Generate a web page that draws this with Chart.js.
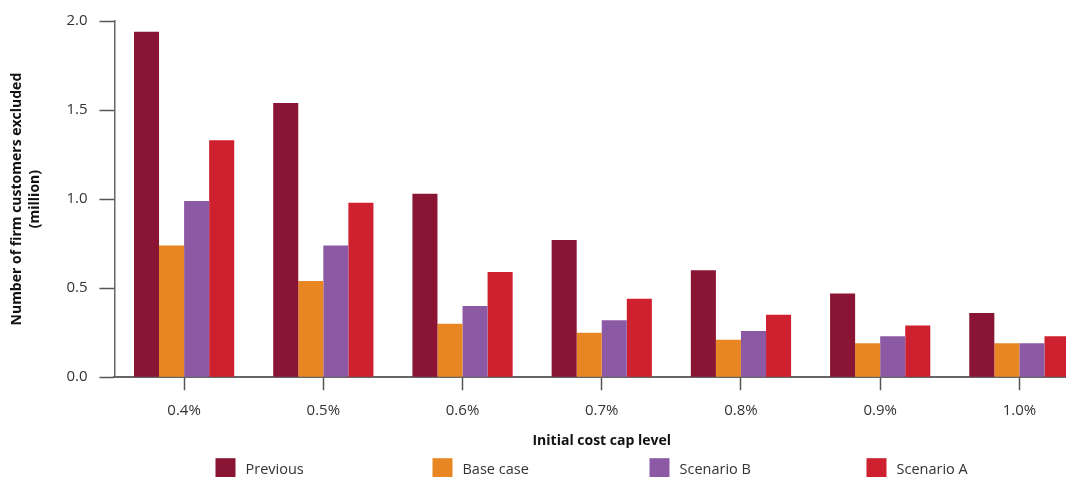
<html>
    <head>
        <title>Customers excluded by initial cost cap level</title>
        <script src="https://cdn.jsdelivr.net/npm/chart.js/dist/chart.umd.min.js"></script>
        <style>
            body { margin: 0; overflow: hidden; background: #fff; }
            #wrap { position: absolute; left: 0; top: 0; width: 1092px; height: 492px; }
        </style>
    </head>
    <body>
        <div id="wrap"><canvas id="myChart" width="1092" height="492"></canvas></div>
        <script>
            // cap levels on the x axis
            var capLevels = ["0.4%", "0.5%", "0.6%", "0.7%", "0.8%", "0.9%", "1.0%"];
            // firm customers excluded, in millions
            var previous  = [1.94, 1.54, 1.03, 0.77, 0.60, 0.47, 0.36];
            var baseCase  = [0.74, 0.54, 0.30, 0.25, 0.21, 0.19, 0.19];
            var scenarioB = [0.99, 0.74, 0.40, 0.32, 0.26, 0.23, 0.19];
            var scenarioA = [1.33, 0.98, 0.59, 0.44, 0.35, 0.29, 0.23];
            var yTicks = [0, 0.5, 1.0, 1.5, 2.0];

            var font = "'Open Sans', 'Noto Sans', sans-serif";

            // legend with evenly spaced entries under the plot
            const spacedLegend = {
                id: 'spacedLegend',
                afterDraw(chart) {
                    const c = chart.ctx;
                    const area = chart.chartArea;
                    c.save();
                    c.font = "14.5px " + font;
                    c.textBaseline = 'middle';
                    chart.data.datasets.forEach((ds, i) => {
                        const x = area.left + 101 + i * 217;
                        const y = area.bottom + 81;
                        c.fillStyle = ds.backgroundColor;
                        c.fillRect(x, y, 20, 20);
                        c.fillStyle = '#333';
                        c.fillText(ds.label, x + 30, y + 12);
                    });
                    c.restore();
                }
            };

            const ctx = document.getElementById('myChart').getContext('2d');
            const myChart = new Chart(ctx, {
                type: 'bar',
                data: {
                    labels: capLevels,
                    datasets: [
                        { label: "Previous", data: previous, backgroundColor: "#8a1433" },
                        { label: "Base case", data: baseCase, backgroundColor: "#e88623" },
                        { label: "Scenario B", data: scenarioB, backgroundColor: "#8c5aa5" },
                        { label: "Scenario A", data: scenarioA, backgroundColor: "#cf202f" },
                    ],
                },
                plugins: [spacedLegend],
                options: {
                    responsive: false,
                    animation: false,
                    layout: { padding: { top: 18, right: 3, left: 8, bottom: 38 } },
                    datasets: {
                        bar: { categoryPercentage: 0.72, barPercentage: 1.0, borderWidth: 0 }
                    },
                    plugins: {
                        tooltip: { enabled: false },
                        legend: { display: false },
                    },
                    scales: {
                        x: {
                            grid: {
                                display: true,
                                offset: false,
                                drawOnChartArea: false,
                                drawTicks: true,
                                tickLength: 13,
                                tickColor: '#555',
                                tickWidth: 1.5,
                            },
                            border: { color: '#666', width: 2 },
                            ticks: {
                                color: '#333',
                                padding: 12,
                                font: { family: font, size: 15 },
                            },
                            title: {
                                display: true,
                                text: "Initial cost cap level",
                                color: '#111',
                                padding: { top: 0, bottom: 5 },
                                font: { family: font, size: 14, weight: 'bold' },
                            },
                        },
                        y: {
                            min: 0,
                            max: 2,
                            afterBuildTicks: function (axis) {
                                axis.ticks = yTicks.map(v => ({ value: v }));
                            },
                            grid: {
                                drawOnChartArea: false,
                                drawTicks: true,
                                tickLength: 15,
                                tickColor: '#555',
                                tickWidth: 1.5,
                            },
                            border: { color: '#666', width: 1.5 },
                            ticks: {
                                color: '#333',
                                padding: 12,
                                font: { family: font, size: 15 },
                                callback: function (v) { return v.toFixed(1); },
                            },
                            title: {
                                display: true,
                                text: ["Number of firm customers excluded", "(million)"],
                                color: '#111',
                                padding: { top: 0, bottom: 10 },
                                font: { family: font, size: 14, weight: 'bold', lineHeight: 1.3 },
                            },
                        },
                    },
                },
            });
        </script>
    </body>
</html>
